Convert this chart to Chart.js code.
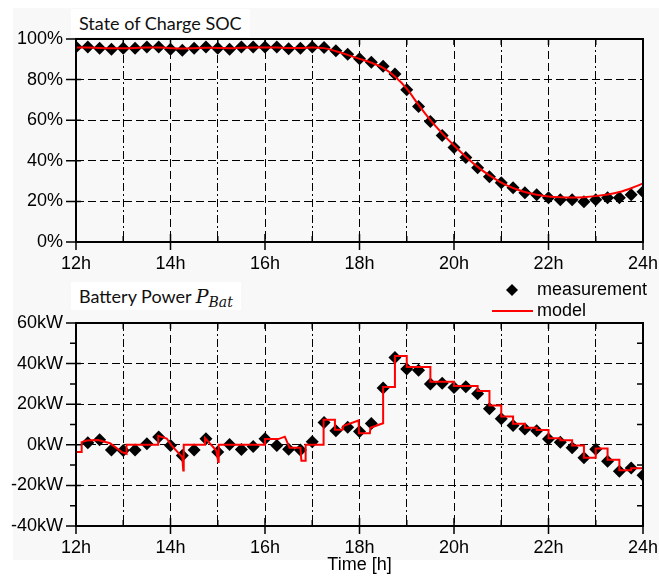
<!DOCTYPE html>
<html>
<head>
<meta charset="utf-8">
<script src="https://cdn.jsdelivr.net/npm/chart.js@4.4.1/dist/chart.umd.min.js"></script>
<style>
  html, body { margin: 0; padding: 0; background: #fff; }
  #figure { position: relative; width: 659px; height: 576px; overflow: hidden; }
  #panel { position: absolute; left: 13px; top: 8px; width: 646px; height: 552px; background: #f8f8f8; }
  canvas { position: absolute; left: 0; }
  #socCanvas { top: 0; }
  #powerCanvas { top: 280px; }
  .plot-title {
    position: absolute; background: #fff; color: #111;
    font-family: Lato, "Open Sans", sans-serif; font-size: 18px;
    padding: 3px 8px 3px 8px; line-height: 22px; white-space: nowrap;
  }
  #socTitle { left: 71px; top: 9px; }
  #powerTitle { left: 71px; top: 282px; }
  .math { font-family: "DejaVu Serif", "Liberation Serif", serif; font-style: italic; font-size: 19px; }
  .math sub { font-size: 14px; vertical-align: -4px; line-height: 0; }
</style>
</head>
<body>
<div id="figure">
  <div id="panel"></div>
  <canvas id="socCanvas" width="659" height="280"></canvas>
  <canvas id="powerCanvas" width="659" height="296"></canvas>
  <div class="plot-title" id="socTitle">State of Charge SOC</div>
  <div class="plot-title" id="powerTitle">Battery Power <span class="math">P<sub>Bat</sub></span></div>
</div>
<script>
// sample times of the measurements [h]
const sampleHours = [
  12.00, 12.25, 12.50, 12.75, 13.00, 13.25, 13.50, 13.75, 14.00, 14.25, 14.50, 14.75,
  15.00, 15.25, 15.50, 15.75, 16.00, 16.25, 16.50, 16.75, 17.00, 17.25, 17.50, 17.75,
  18.00, 18.25, 18.50, 18.75, 19.00, 19.25, 19.50, 19.75, 20.00, 20.25, 20.50, 20.75,
  21.00, 21.25, 21.50, 21.75, 22.00, 22.25, 22.50, 22.75, 23.00, 23.25, 23.50, 23.75, 24.00
];

// state of charge [%]
const socMeasured = [
  96.0, 96.0, 95.5, 95.0, 95.5, 95.5, 96.0, 96.0, 95.0, 94.5, 95.5, 96.0,
  95.5, 95.0, 96.0, 96.0, 96.0, 96.0, 95.2, 95.5, 96.0, 95.8, 94.2, 92.5,
  90.3, 88.6, 86.6, 82.7, 75.0, 66.8, 59.4, 52.5, 46.5, 41.6, 36.6, 32.2,
  29.2, 26.7, 24.3, 23.3, 21.8, 20.8, 20.8, 19.8, 20.8, 21.8, 21.8, 23.3, 24.8
];
const socModel = [
  95.8, 95.8, 95.6, 95.5, 95.5, 95.6, 95.8, 95.8, 95.5, 95.3, 95.5, 95.7,
  95.6, 95.5, 95.7, 95.8, 95.8, 95.8, 95.6, 95.6, 95.8, 95.5, 94.0, 92.2,
  90.2, 88.3, 85.8, 81.5, 75.5, 67.5, 60.0, 53.5, 47.5, 42.0, 37.0, 32.8,
  29.3, 26.6, 24.6, 23.3, 22.4, 22.0, 21.9, 22.1, 22.6, 23.4, 24.6, 26.5, 28.8
];

// battery power [kW], no sample at 12h
const powerMeasured = [
  null, 1.0, 2.5, -2.5, -2.8, -2.5, 0.5, 3.8, -0.3, -5.3, -2.5, 3.0,
  -3.6, 0.1, -2.3, -0.8, 3.0, -0.3, -2.2, -2.6, 1.5, 11.0, 6.9, 8.6,
  6.5, 10.5, 28.0, 43.0, 37.3, 36.7, 30.0, 30.3, 28.2, 28.6, 25.2, 17.8,
  12.8, 9.5, 7.8, 6.9, 2.8, 1.3, -1.4, -6.4, -2.2, -8.1, -13.0, -11.4, -15.0
];

// simulated power trace (vertices of the piecewise model output)
const powerModelHours = [
  12.00, 12.12, 12.12, 12.23, 12.47, 12.72, 12.97, 13.07, 13.07, 13.74, 13.74, 13.92,
  14.02, 14.25, 14.27, 14.28, 14.73, 14.73, 14.97, 15.01, 15.02, 16.00, 16.00, 16.28,
  16.42, 16.52, 16.75, 16.77, 16.86, 16.86, 17.24, 17.24, 17.48, 17.48, 17.64, 17.66,
  17.98, 17.99, 18.22, 18.23, 18.50, 18.50, 18.75, 18.75, 19.00, 19.00, 19.50, 19.50,
  20.00, 20.00, 20.50, 20.50, 20.75, 20.75, 21.00, 21.00, 21.25, 21.25, 21.50, 21.50,
  21.75, 21.75, 22.00, 22.00, 22.25, 22.25, 22.50, 22.50, 22.75, 22.75, 23.00, 23.00,
  23.25, 23.25, 23.50, 23.50, 23.75, 23.75, 24.00
];
const powerModelKw = [
  -3.6, -3.6, 1.3, 2.1, 2.4, 0.8, -3.6, -4.4, 0.0, 0.0, 4.4, 3.1,
  -0.3, -6.1, -12.6, 0.0, 0.0, 3.3, -2.8, -8.5, 0.0, 0.0, 2.8, 2.8,
  4.0, -1.5, -1.5, -7.8, -7.8, 0.0, 0.0, 12.3, 12.3, 7.4, 7.4, 9.3,
  12.0, 5.7, 5.7, 8.4, 10.6, 28.5, 28.5, 43.8, 43.8, 38.3, 38.3, 31.0,
  31.0, 29.0, 29.0, 26.5, 26.5, 19.4, 19.4, 14.0, 14.0, 10.4, 10.4, 8.4,
  8.4, 7.3, 7.3, 3.2, 3.2, 2.2, 2.2, -0.3, -0.3, -6.4, -6.4, -1.8,
  -1.8, -7.4, -7.4, -12.5, -12.5, -11.5, -11.5
];

const hourTicks = { min: 12, max: 24 };
const socTicks = { min: 0, max: 100, step: 20 };
const powerTicks = { min: -40, max: 60, step: 20, minor: [50, 30, 10, -10, -30] };

const toPoints = (xs, ys) => xs.map((x, i) => ({ x, y: ys[i] }));

Chart.defaults.font.family = '"Liberation Sans", Arial, sans-serif';
Chart.defaults.font.size = 18;
Chart.defaults.color = '#000';

// frame round the plot area plus the small tick marks on all four sides
const frameTicks = {
  id: 'frameTicks',
  afterDatasetsDraw(chart, args, opts) {
    const { ctx, chartArea: a, scales: { x, y } } = chart;
    ctx.save();
    ctx.strokeStyle = '#000';
    ctx.lineWidth = 2;
    ctx.strokeRect(a.left, a.top, a.right - a.left, a.bottom - a.top);
    ctx.lineWidth = 1.5;
    ctx.beginPath();
    x.ticks.forEach(t => {
      const px = x.getPixelForValue(t.value);
      if (t.value % 2 === 0) {
        ctx.moveTo(px, a.bottom - 8); ctx.lineTo(px, a.bottom + 8);
      } else {
        ctx.moveTo(px, a.bottom - 6); ctx.lineTo(px, a.bottom);
      }
      ctx.moveTo(px, a.top); ctx.lineTo(px, a.top + 6);
    });
    y.ticks.forEach(t => {
      const py = y.getPixelForValue(t.value);
      ctx.moveTo(a.left - 10, py); ctx.lineTo(a.left + 5, py);
    });
    (opts.minor || []).forEach(v => {
      const py = y.getPixelForValue(v);
      ctx.moveTo(a.left - 6, py); ctx.lineTo(a.left, py);
      ctx.moveTo(a.right - 6, py); ctx.lineTo(a.right, py);
    });
    ctx.stroke();
    ctx.restore();
  }
};

// two-row legend in the upper right corner of the power plot
const cornerLegend = {
  id: 'cornerLegend',
  afterDraw(chart, args, opts) {
    if (!opts.display) return;
    const { ctx } = chart;
    const [meas, model] = chart.data.datasets;
    ctx.save();
    ctx.fillStyle = meas.pointBackgroundColor;
    ctx.beginPath();
    ctx.moveTo(512, 4); ctx.lineTo(518, 10); ctx.lineTo(512, 16); ctx.lineTo(506, 10);
    ctx.closePath();
    ctx.fill();
    ctx.strokeStyle = model.borderColor;
    ctx.lineWidth = model.borderWidth;
    ctx.beginPath();
    ctx.moveTo(492, 31); ctx.lineTo(533, 31);
    ctx.stroke();
    ctx.fillStyle = '#000';
    ctx.font = '18px "Liberation Sans", Arial, sans-serif';
    ctx.textBaseline = 'middle';
    ctx.fillText(meas.label, 537, 10);
    ctx.fillText(model.label, 537, 31);
    ctx.restore();
  }
};

const gridDash = c => (c.tick && c.tick.value % 2 !== 0 ? [8, 3, 2, 3] : [8, 4]);

function makeChart(canvasId, cfg) {
  const ctx = document.getElementById(canvasId).getContext('2d');
  return new Chart(ctx, {
    type: 'scatter',
    data: {
      datasets: [
        {
          label: 'measurement',
          data: cfg.measured,
          showLine: false,
          pointStyle: 'rectRot',
          pointRadius: 6.5,
          pointBorderWidth: 0,
          pointBackgroundColor: '#000',
          pointBorderColor: '#000',
          clip: 0,
          order: 1
        },
        {
          label: 'model',
          data: cfg.model,
          showLine: true,
          borderColor: '#ff0000',
          borderWidth: 2,
          pointRadius: 0,
          tension: cfg.tension,
          cubicInterpolationMode: cfg.tension ? 'monotone' : 'default',
          clip: 0,
          order: 0
        }
      ]
    },
    options: {
      responsive: false,
      animation: false,
      devicePixelRatio: 1,
      layout: { padding: { top: cfg.padTop, right: 16, left: 0, bottom: 0 } },
      plugins: {
        legend: { display: false },
        tooltip: { enabled: false },
        frameTicks: { minor: cfg.minor },
        cornerLegend: { display: cfg.legend }
      },
      scales: {
        x: {
          type: 'linear',
          min: hourTicks.min,
          max: hourTicks.max,
          afterFit: s => { s.height = cfg.xHeight; s.paddingLeft = 0; s.paddingRight = 0; },
          grid: { color: '#000', lineWidth: 1, drawTicks: false },
          border: { display: false, dash: gridDash },
          ticks: {
            stepSize: 1, autoSkip: false, maxRotation: 0, padding: 11,
            callback: v => (v % 2 === 0 ? v + 'h' : '')
          },
          title: {
            display: !!cfg.xTitle,
            text: cfg.xTitle || '',
            font: { size: 18 },
            padding: { top: 0, bottom: 0 }
          }
        },
        y: {
          min: cfg.yTicks.min,
          max: cfg.yTicks.max,
          afterFit: s => { s.width = 76; s.paddingTop = 0; s.paddingBottom = 0; },
          grid: { color: '#000', lineWidth: 1, drawTicks: false },
          border: { display: false, dash: [8, 4] },
          ticks: {
            stepSize: cfg.yTicks.step, padding: 13,
            callback: v => v + cfg.unit
          }
        }
      }
    },
    plugins: [frameTicks, cornerLegend]
  });
}

makeChart('socCanvas', {
  measured: toPoints(sampleHours, socMeasured),
  model: toPoints(sampleHours, socModel),
  tension: 0.4,
  yTicks: socTicks,
  unit: '%',
  padTop: 39,
  xHeight: 38,
  minor: [],
  legend: false
});

makeChart('powerCanvas', {
  measured: toPoints(sampleHours, powerMeasured),
  model: toPoints(powerModelHours, powerModelKw),
  tension: 0,
  yTicks: powerTicks,
  unit: 'kW',
  padTop: 43,
  xHeight: 50,
  minor: powerTicks.minor,
  xTitle: 'Time [h]',
  legend: true
});
</script>
</body>
</html>
